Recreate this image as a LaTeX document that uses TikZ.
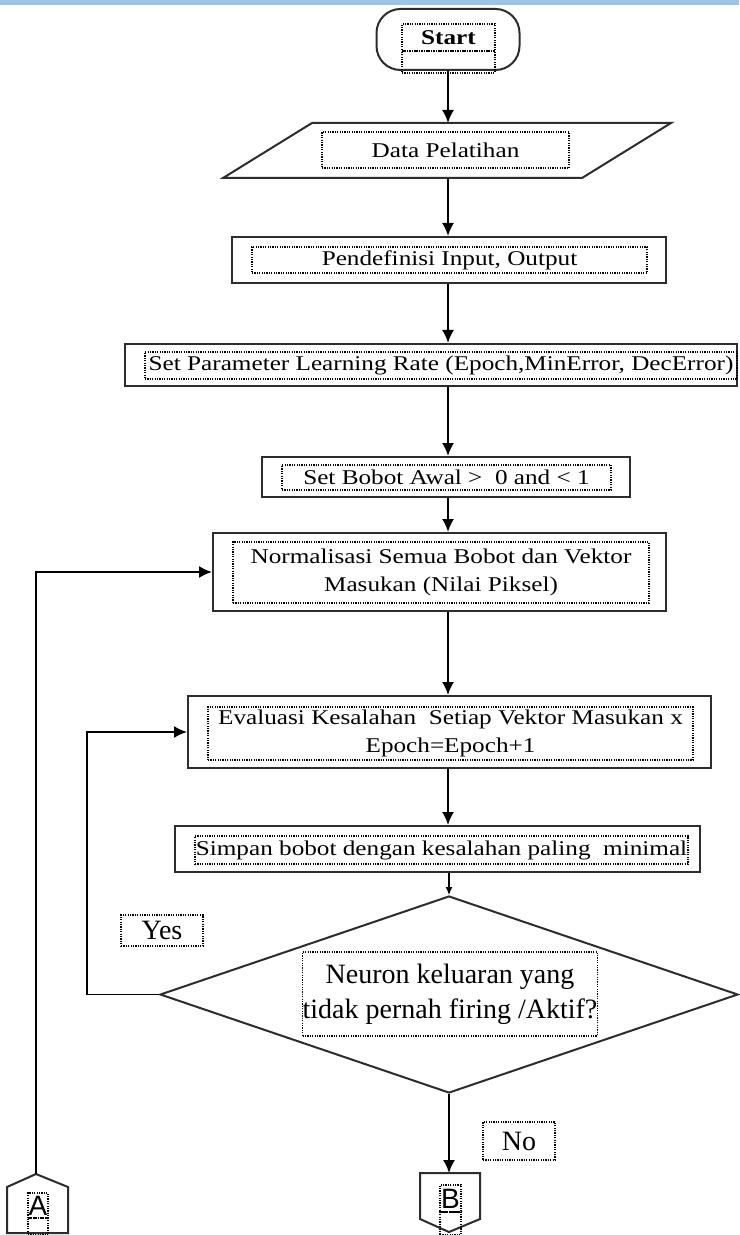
\documentclass[tikz,border=0pt]{standalone}
\usepackage{fontspec}
\setmainfont{Liberation Serif}
\newfontfamily\boxfont{Liberation Serif}[FakeStretch=1.2]
\newfontfamily\connfont{Liberation Sans}
\usepackage{tikz}
\usetikzlibrary{arrows.meta}
\usetikzlibrary{shapes.geometric}

\definecolor{bandblue}{RGB}{157,195,230}
\definecolor{edgegray}{RGB}{45,45,45}

\tikzset{
  procbox/.style={rectangle, draw=edgegray, line width=1pt, inner sep=0pt},
  txtbox/.style={rectangle, draw=black, dash pattern=on 0.6pt off 0.6pt, line width=0.6pt, inner sep=0pt, align=center, font=\boxfont\fontsize{10.5}{14}\selectfont},
  bigtxt/.style={txtbox, font=\fontsize{14}{17.5}\selectfont},
  conntxt/.style={txtbox, font=\connfont\fontsize{14}{16}\selectfont},
  arr/.style={-{Latex[length=6.5pt,width=6pt]}, line width=0.9pt, draw=black},
  smallarr/.style={-{Latex[length=4pt,width=3.5pt]}, line width=0.6pt, draw=black}
}

\begin{document}
\begin{tikzpicture}[x=0.5pt, y=-0.5pt]
\useasboundingbox (0,0) rectangle (739,1235);
\fill [bandblue] (0,0) rectangle (739,5);
\coordinate (axis) at (448,0);

% start
\node [procbox, rounded corners=12pt, minimum width=71.5pt, minimum height=30.5pt] (start) at (448,39.5) {};
\node [txtbox, minimum width=46.5pt, minimum height=13.5pt, font=\boxfont\bfseries\fontsize{10.5}{14}\selectfont] (starttxt) at (448.5,37.5) {Start};
\node [txtbox, minimum width=46.5pt, minimum height=11pt] (startlow) at (448.5,62) {};

% input data
\coordinate (datatop) at (448,123);
\coordinate (databot) at (448,178);
\draw [edgegray, line width=1pt] (312,123) -- (671,123) -- (582,178) -- (223,178) -- cycle;
\node [txtbox, minimum width=123.5pt, minimum height=18pt] (data) at (445.5,150) {Data Pelatihan};

% process steps
\node [procbox, minimum width=217pt, minimum height=23pt] (defio) at (449,260) {};
\node [txtbox, minimum width=197.5pt, minimum height=13pt] (defiotxt) at (449.5,260) {Pendefinisi Input, Output};

\node [procbox, minimum width=306pt, minimum height=21pt] (param) at (431,365) {};
\node [txtbox, minimum width=296pt, minimum height=13.5pt] (paramtxt) at (441,365.5) {Set Parameter Learning Rate (Epoch,MinError, DecError)};

\node [procbox, minimum width=184pt, minimum height=20pt] (bobot) at (446,477) {};
\node [txtbox, minimum width=164.5pt, minimum height=12.5pt] (bobottxt) at (446.5,477.5) {Set Bobot Awal >~ 0 and < 1};

\node [procbox, minimum width=226.5pt, minimum height=39pt] (norm) at (439.5,572) {};
\node [txtbox, minimum width=208pt, minimum height=30.5pt] (normtxt) at (441,572.5) {Normalisasi Semua Bobot dan Vektor\\ Masukan (Nilai Piksel)};

\node [procbox, minimum width=261.5pt, minimum height=36pt] (eval) at (449.5,732) {};
\node [txtbox, minimum width=242.5pt, minimum height=26.5pt] (evaltxt) at (450.5,733.5) {Evaluasi Kesalahan~ Setiap Vektor Masukan x\\ Epoch=Epoch+1};

\node [procbox, minimum width=262.5pt, minimum height=23pt] (simpan) at (437.5,849) {};
\node [txtbox, minimum width=246.5pt, minimum height=14pt] (simpantxt) at (441.5,850) {Simpan bobot dengan kesalahan paling~ minimal};

% decision
\node [diamond, draw=edgegray, line width=1pt, inner sep=0pt, minimum width=289pt, minimum height=98.5pt] (cek) at (449,994.5) {};
\node [bigtxt, minimum width=136pt, minimum height=42pt] (cektxt) at (450,994) {Neuron keluaran yang\\ tidak pernah firing /Aktif?};
\node [bigtxt, minimum width=41pt, minimum height=15.5pt] (yes) at (162,930.5) {Yes};
\node [bigtxt, minimum width=36pt, minimum height=19pt] (no) at (519,1141) {No};

% off-page connectors
\coordinate (Btop) at (449,1173);
\draw [edgegray, line width=1pt] (420,1173) -- (480,1173) -- (480,1219) -- (449,1232) -- (420,1219) -- cycle;
\node [conntxt, minimum width=10.5pt, minimum height=13.5pt] (btxt) at (450.5,1198.5) {B};
\node [conntxt, minimum width=10.5pt, minimum height=11.5pt] (blow) at (450.5,1223.5) {};

\coordinate (Atop) at (36,1174);
\draw [edgegray, line width=1pt] (7,1233) -- (7,1187) -- (36,1174) -- (68,1187) -- (68,1233) -- cycle;
\node [conntxt, minimum width=10pt, minimum height=12.5pt] (atxt) at (38,1205.5) {A};
\node [conntxt, minimum width=10pt, minimum height=8.5pt] (alow) at (38,1226.5) {};

% arrows
\draw [arr] (start.south -| axis) -- (datatop);
\draw [arr] (databot) -- (defio.north -| axis);
\draw [arr] (defio.south -| axis) -- (param.north -| axis);
\draw [arr] (param.south -| axis) -- (bobot.north -| axis);
\draw [arr] (bobot.south -| axis) -- (norm.north -| axis);
\draw [arr] (norm.south -| axis) -- (eval.north -| axis);
\draw [arr] (eval.south -| axis) -- (simpan.north -| axis);
\draw [smallarr] (simpan.south -| cek.north) -- (cek.north);
\draw [arr] (cek.south) -- (Btop);
\draw [arr] (cek.west) -- ++(-72,0) |- (eval.west);
\draw [arr] (Atop) |- (norm.west);
\end{tikzpicture}
\end{document}
